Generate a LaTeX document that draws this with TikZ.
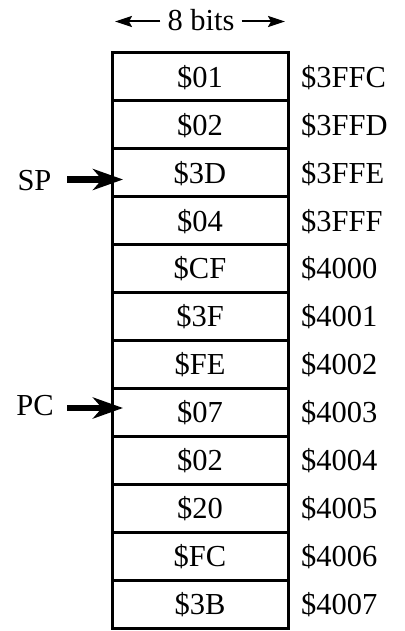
\documentclass[tikz,border=0pt]{standalone}
\usepackage{fontspec}
\setmainfont{Liberation Serif}
\usetikzlibrary{arrows.meta,positioning}
\begin{document}
\begin{tikzpicture}[x=1pt,y=-1pt,
  every node/.style={font=\fontsize{30.5}{36}\selectfont},
  cell/.style={draw, line width=3pt, minimum width=176pt, minimum height=47.92pt,
    inner sep=0pt, outer sep=0pt, text height=20.6pt, text depth=0pt},
  addr/.style={anchor=west, inner sep=0pt, text height=20.6pt, text depth=0pt},
  regname/.style={inner sep=0pt, text height=20.2pt, text depth=0pt},
  ptr/.style={line width=6.5pt, -{Stealth[length=30pt,width=21pt,inset=9pt]}},
  widtharrow/.style={line width=2pt, -{Stealth[length=17pt,width=11pt,inset=3pt]}}
]
\useasboundingbox (0,0) rectangle (404,631);

% memory cells, one byte per row, with their addresses
\foreach \i/\v/\a in {1/\$01/\$3FFC, 2/\$02/\$3FFD, 3/\$3D/\$3FFE, 4/\$04/\$3FFF,
                      5/\$CF/\$4000, 6/\$3F/\$4001, 7/\$FE/\$4002, 8/\$07/\$4003,
                      9/\$02/\$4004, 10/\$20/\$4005, 11/\$FC/\$4006, 12/\$3B/\$4007} {
  \node[cell] (c\i) at (200, {53+47.92*(\i-0.5)}) {\v};
  \node[addr] (a\i) at (301, {53+47.92*(\i-0.5)}) {\a};
}

% width of a cell
\node[inner xsep=7pt, inner ysep=0pt, text height=21pt, text depth=0pt] (bits) at (201,20.5) {8 bits};
\coordinate (bitsL) at (115,21.5);
\coordinate (bitsR) at (285,21.5);
\draw[widtharrow] (bits.west |- bitsL) -- (bitsL);
\draw[widtharrow] (bits.east |- bitsR) -- (bitsR);

% stack pointer
\node[regname] (sp) at (34.5,180.5) {SP};
\coordinate (sptip) at (123,179.5);
\draw[ptr] (67,179.5) -- (sptip);

% program counter
\node[regname] (pc) at (35,405.5) {PC};
\coordinate (pctip) at (123,408);
\draw[ptr] (67,408) -- (pctip);
\end{tikzpicture}
\end{document}
